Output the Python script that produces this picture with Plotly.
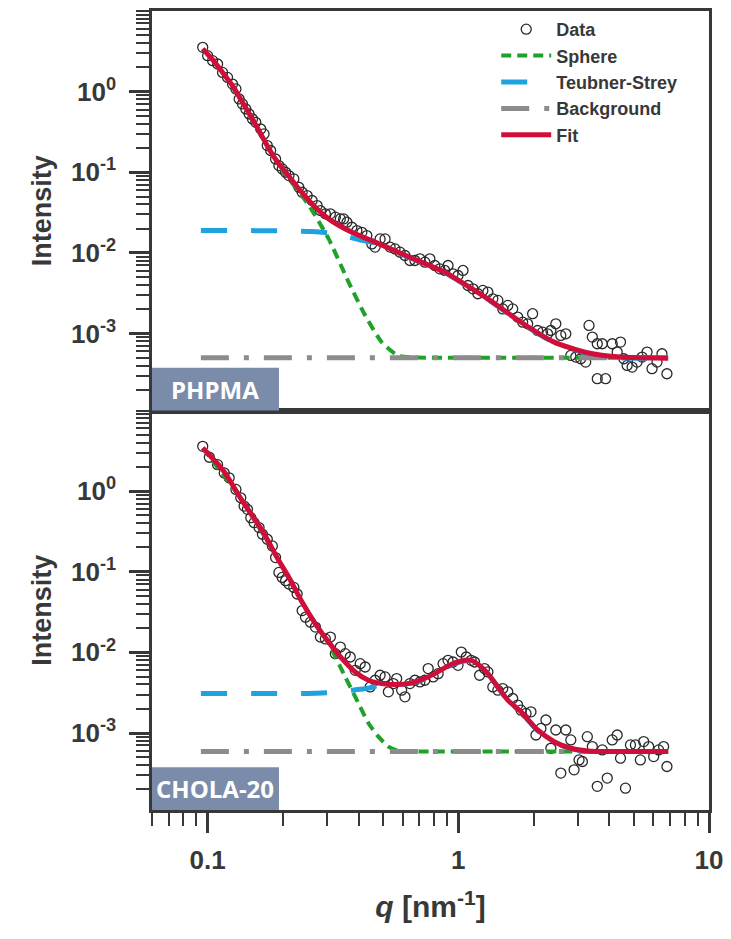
import math
import plotly.graph_objects as go

# ---------------- data: PHPMA (top panel) ----------------
q_phpma = [0.0956, 0.100, 0.1047, 0.1096, 0.1147, 0.1201, 0.1257, 0.1297, 0.1336, 0.1377,
           0.142, 0.1464, 0.151, 0.1556, 0.1629, 0.1679, 0.173, 0.1784, 0.1867, 0.1925,
           0.1985, 0.2046, 0.211, 0.2208, 0.2311, 0.2383, 0.2495, 0.2611, 0.2734, 0.2818,
           0.2949, 0.3088, 0.3232, 0.3384, 0.3488, 0.3595, 0.3763, 0.3939, 0.4124, 0.4316,
           0.4518, 0.4657, 0.4875, 0.5103, 0.5342, 0.5592, 0.5853, 0.6127, 0.6412, 0.6713,
           0.7027, 0.7356, 0.770, 0.8058, 0.8437, 0.883, 0.910, 0.9528, 0.9972, 1.044,
           1.093, 1.144, 1.197, 1.253, 1.312, 1.373, 1.438, 1.504, 1.575, 1.648,
           1.725, 1.806, 1.891, 1.979, 2.072, 2.168, 2.270, 2.340, 2.449, 2.564,
           2.684, 2.810, 2.941, 3.078, 3.222, 3.322, 3.424, 3.584, 3.584, 3.752,
           3.868, 4.111, 4.303, 4.436, 4.574, 4.715, 4.935, 5.166, 5.408, 5.661,
           5.925, 6.203, 6.493, 6.796]
i_phpma = [3.54, 2.79, 2.42, 2.20, 1.73, 1.50, 1.24, 1.08, 0.811, 0.703,
           0.609, 0.528, 0.458, 0.416, 0.344, 0.299, 0.214, 0.186, 0.146, 0.121,
           0.110, 0.100, 0.0909, 0.0827, 0.0652, 0.0565, 0.0514, 0.0446, 0.0386, 0.0335,
           0.0305, 0.0305, 0.0277, 0.0264, 0.0264, 0.0240, 0.0208, 0.0189, 0.0180, 0.0164,
           0.0129, 0.0118, 0.0149, 0.0149, 0.0118, 0.0112, 0.0102, 0.00928, 0.00804, 0.00804,
           0.00843, 0.00767, 0.00843, 0.00697, 0.00634, 0.00605, 0.00697, 0.0055, 0.00524, 0.00605,
           0.00394, 0.00358, 0.00311, 0.00342, 0.00326, 0.00269, 0.00257, 0.00202, 0.00223, 0.00202,
           0.0016, 0.00138, 0.00132, 0.00176, 0.00109, 0.00104, 0.000992, 0.00109, 0.00132, 0.000946,
           0.000992, 0.000535, 0.00051, 0.000486, 0.000442, 0.00126, 0.000902, 0.000746, 0.000275, 0.000746,
           0.000275, 0.000746, 0.000588, 0.000782, 0.000486, 0.000402, 0.000383, 0.000442, 0.00051, 0.000588,
           0.000366, 0.000442, 0.000561, 0.000317]

q_fit_phpma = [0.0956, 0.1047, 0.1147, 0.1257, 0.1377, 0.151, 0.1629, 0.1758, 0.1925, 0.211,
               0.2311, 0.2611, 0.304, 0.3763, 0.4657, 0.5764, 0.7134, 0.883, 1.028, 1.312,
               1.779, 2.412, 3.271, 4.436, 6.87]
i_fit_phpma = [3.39, 2.49, 1.73, 1.185, 0.737, 0.458, 0.299, 0.1945, 0.1268, 0.0892,
               0.0621, 0.0405, 0.0264, 0.0180, 0.0136, 0.0102, 0.00767, 0.00577, 0.00434, 0.00269,
               0.00138, 0.000782, 0.000577, 0.00051, 0.000495]

q_sph_phpma = [0.0956, 0.1147, 0.1377, 0.1629, 0.1925, 0.211, 0.2535, 0.304, 0.365, 0.425,
               0.495, 0.576, 0.65, 1.0, 2.0, 6.87]
i_sph_phpma = [3.39, 1.73, 0.737, 0.299, 0.122, 0.0826, 0.0387, 0.0149, 0.00434, 0.00168,
               0.00078, 0.00053, 0.000505, 0.0005, 0.0005, 0.0005]

q_ts_phpma = [0.094, 0.2, 0.26, 0.304, 0.35, 0.412, 0.4657, 0.5764, 0.7134, 0.883,
              1.028, 1.312, 1.779, 2.412, 3.271, 4.436, 6.87]
i_ts_phpma = [0.0189, 0.0188, 0.0184, 0.0177, 0.0163, 0.0143, 0.0133, 0.0100, 0.0076, 0.0057,
              0.0043, 0.00266, 0.00136, 0.00077, 0.00057, 0.0005, 0.00049]

q_bg_phpma = [0.094, 6.87]
i_bg_phpma = [0.0005, 0.0005]

# ---------------- data: CHOLA-20 (bottom panel) ----------------
q_chola = [0.0956, 0.1016, 0.1096, 0.1165, 0.1219, 0.1297, 0.1356, 0.1398, 0.1442, 0.1487,
           0.1533, 0.1604, 0.1654, 0.173, 0.1812, 0.1867, 0.1925, 0.1985, 0.2046, 0.211,
           0.2208, 0.2276, 0.2383, 0.2457, 0.2571, 0.2692, 0.2818, 0.2949, 0.3088, 0.3232,
           0.3384, 0.3540, 0.3706, 0.3879, 0.4061, 0.4251, 0.4449, 0.4657, 0.4875, 0.5103,
           0.526, 0.5507, 0.5677, 0.5943, 0.6127, 0.6412, 0.6713, 0.7027, 0.7356, 0.7584,
           0.7937, 0.831, 0.8695, 0.910, 0.9528, 0.9972, 1.028, 1.076, 1.126, 1.161,
           1.216, 1.272, 1.312, 1.373, 1.438, 1.504, 1.575, 1.648, 1.725, 1.779,
           1.862, 1.949, 2.040, 2.135, 2.236, 2.340, 2.449, 2.564, 2.684, 2.810,
           2.896, 3.031, 3.125, 3.271, 3.424, 3.584, 3.752, 3.928, 4.111, 4.303,
           4.436, 4.643, 4.861, 5.087, 5.324, 5.489, 5.746, 6.016, 6.297, 6.592,
           6.796]
i_chola = [3.59, 2.63, 2.13, 1.68, 1.46, 1.05, 0.827, 0.653, 0.594, 0.469,
           0.406, 0.353, 0.292, 0.253, 0.209, 0.150, 0.0981, 0.0851, 0.0774, 0.0704,
           0.0640, 0.0530, 0.0330, 0.0273, 0.0237, 0.0206, 0.0155, 0.0147, 0.0155, 0.00963,
           0.01163, 0.00963, 0.00876, 0.00599, 0.00725, 0.00659, 0.00373, 0.00451, 0.0052, 0.00496,
           0.00324, 0.0041, 0.00473, 0.0034, 0.00281, 0.0041, 0.00451, 0.0043, 0.00451, 0.00629,
           0.00496, 0.00545, 0.00725, 0.00796, 0.0076, 0.00691, 0.0101, 0.00876, 0.00796, 0.0076,
           0.0052, 0.00629, 0.00572, 0.00373, 0.0034, 0.00356, 0.00324, 0.00268, 0.00222, 0.00192,
           0.00175, 0.00183, 0.000945, 0.00114, 0.00145, 0.000647, 0.00109, 0.000318, 0.00109, 0.00082,
           0.000349, 0.000464, 0.000443, 0.000901, 0.000678, 0.000218, 0.000617, 0.000276, 0.00082, 0.000945,
           0.000487, 0.000207, 0.000711, 0.000711, 0.000464, 0.000782, 0.000678, 0.00051, 0.000617, 0.000678,
           0.000384]

q_fit_chola = [0.0956, 0.1147, 0.1377, 0.1654, 0.1925, 0.211, 0.2383, 0.2692, 0.3041, 0.3435,
               0.3879, 0.4383, 0.4951, 0.5592, 0.6316, 0.7134, 0.8058, 0.910, 1.028, 1.126,
               1.197, 1.312, 1.438, 1.575, 1.779, 2.072, 2.412, 2.810, 3.271, 4.436,
               6.87]
i_fit_chola = [3.43, 1.85, 0.752, 0.321, 0.1367, 0.0851, 0.0418, 0.0226, 0.0134, 0.00835,
               0.00572, 0.00451, 0.0041, 0.00399, 0.0041, 0.0046, 0.00545, 0.00678, 0.00782, 0.00796,
               0.00711, 0.00545, 0.00373, 0.00256, 0.00183, 0.00109, 0.00078, 0.000647, 0.0006, 0.00059,
               0.00059]

q_sph_chola = [0.0956, 0.1377, 0.1925, 0.2383, 0.2692, 0.3041, 0.354, 0.3763, 0.40, 0.4383,
               0.4801, 0.526, 0.5764, 0.65, 1.0, 2.0, 6.87]
i_sph_chola = [3.43, 0.752, 0.1367, 0.0418, 0.0224, 0.0128, 0.00496, 0.0034, 0.00232, 0.00132,
               0.000901, 0.000678, 0.0006, 0.00059, 0.00059, 0.00059, 0.00059]

q_ts_chola = [0.094, 0.25, 0.32, 0.38, 0.4383, 0.4951, 0.5592, 0.6316, 0.7134, 0.8058,
              0.910, 1.028, 1.126, 1.197, 1.312, 1.438, 1.575, 1.779, 2.072, 2.412,
              2.810, 3.271, 4.436, 6.87]
i_ts_chola = [0.0031, 0.0031, 0.0032, 0.0034, 0.0036, 0.0040, 0.0040, 0.0041, 0.0045, 0.0054,
              0.0067, 0.0077, 0.0079, 0.0070, 0.0054, 0.0037, 0.00254, 0.00181, 0.00107, 0.00077,
              0.00064, 0.00059, 0.00059, 0.00059]

q_bg_chola = [0.094, 6.87]
i_bg_chola = [0.00059, 0.00059]

panel_labels = ["PHPMA", "CHOLA-20"]
y_tickvals = [1, 0.1, 0.01, 0.001]
y_ticktext = ["10<sup>0</sup>", "10<sup>-1</sup>", "10<sup>-2</sup>", "10<sup>-3</sup>"]
x_tickvals = [0.1, 1, 10]
x_ticktext = ["0.1", "1", "10"]

# ---------------- styles ----------------
INK = "#383838"
FONT = "Liberation Sans, Arial, sans-serif"
C_DATA = "#2a2a2a"
C_SPH = "#1fa12a"
C_TS = "#1ea3df"
C_BG = "#8c8c8c"
C_FIT = "#cf0f3a"
C_BOX = "#7b8cab"

fig = go.Figure()


def add_panel(xa, ya, q, i, qs, is_, qt, it, qb, ib, qf, if_, show):
    fig.add_trace(go.Scatter(
        x=q, y=i, mode="markers", name="Data", showlegend=show, xaxis=xa, yaxis=ya,
        marker=dict(symbol="circle-open", size=10, color=C_DATA, line=dict(width=1.3, color=C_DATA))))
    fig.add_trace(go.Scatter(
        x=qs, y=is_, mode="lines", name="Sphere", showlegend=show, xaxis=xa, yaxis=ya,
        line=dict(color=C_SPH, width=4, dash="10px,6px", shape="spline", smoothing=0.6)))
    fig.add_trace(go.Scatter(
        x=qt, y=it, mode="lines", name="Teubner-Strey", showlegend=show, xaxis=xa, yaxis=ya,
        line=dict(color=C_TS, width=5, dash="26px,24px", shape="spline", smoothing=0.6)))
    fig.add_trace(go.Scatter(
        x=qb, y=ib, mode="lines", name="Background", showlegend=show, xaxis=xa, yaxis=ya,
        line=dict(color=C_BG, width=5, dash="28px,15px,5px,15px")))
    fig.add_trace(go.Scatter(
        x=qf, y=if_, mode="lines", name="Fit", showlegend=show, xaxis=xa, yaxis=ya,
        line=dict(color=C_FIT, width=5, shape="spline", smoothing=0.6)))


add_panel("x2", "y2", q_phpma, i_phpma, q_sph_phpma, i_sph_phpma, q_ts_phpma, i_ts_phpma,
          q_bg_phpma, i_bg_phpma, q_fit_phpma, i_fit_phpma, True)
add_panel("x", "y", q_chola, i_chola, q_sph_chola, i_sph_chola, q_ts_chola, i_ts_chola,
          q_bg_chola, i_bg_chola, q_fit_chola, i_fit_chola, False)

yrange = [-3.955, 1.0]
xrange = [math.log10(0.06), 1.0]

common_y = dict(
    type="log", range=yrange, showline=True, linewidth=2.5, linecolor=INK, mirror=True,
    ticks="outside", ticklen=20, tickwidth=3, tickcolor=INK,
    tickmode="array", tickvals=y_tickvals, ticktext=y_ticktext,
    tickfont=dict(family=FONT, size=26, color=INK, weight="bold"),
    ticklabelstandoff=8,
    minor=dict(ticks="outside", ticklen=13, tickwidth=2, tickcolor=INK, dtick="D1", showgrid=False),
    showgrid=False, zeroline=False,
    title=dict(text="Intensity", font=dict(family=FONT, size=27, color=INK, weight="bold"), standoff=12),
)

fig.update_layout(
    width=731, height=939,
    margin=dict(l=152, r=18, t=8, b=129),
    paper_bgcolor="white", plot_bgcolor="white",
    xaxis=dict(
        type="log", range=xrange, anchor="y", domain=[0, 1],
        showline=True, linewidth=2.5, linecolor=INK, mirror=True,
        ticks="outside", ticklen=20, tickwidth=3, tickcolor=INK,
        tickmode="array", tickvals=x_tickvals, ticktext=x_ticktext,
        tickfont=dict(family=FONT, size=26, color=INK, weight="bold"),
        ticklabelstandoff=5,
        minor=dict(ticks="outside", ticklen=13, tickwidth=2, tickcolor=INK, dtick="D1", showgrid=False),
        showgrid=False, zeroline=False,
        title=dict(text="<i>q</i> [nm<sup>-1</sup>]", font=dict(family=FONT, size=30, color=INK, weight="bold"),
                   standoff=23),
    ),
    xaxis2=dict(
        type="log", range=xrange, anchor="y2", matches="x", domain=[0, 1],
        showline=True, linewidth=2.5, linecolor=INK, mirror=True,
        ticks="", showticklabels=False, showgrid=False, zeroline=False,
    ),
    yaxis=dict(domain=[0, 0.5], anchor="x", **common_y),
    yaxis2=dict(domain=[0.5, 1], anchor="x2", **common_y),
    legend=dict(
        x=0.618, y=1.0, xanchor="left", yanchor="top",
        bgcolor="rgba(0,0,0,0)", borderwidth=0,
        font=dict(family=FONT, size=18, color=INK, weight="bold"),
        itemwidth=50, tracegroupgap=0,
    ),
)

for xr, yr, label in [("x2 domain", "y2 domain", panel_labels[0]), ("x domain", "y domain", panel_labels[1])]:
    fig.add_shape(type="rect", xref=xr, yref=yr, x0=0, x1=0.228, y0=0, y1=0.107,
                  fillcolor=C_BOX, line=dict(width=0), layer="above")
    fig.add_annotation(xref=xr, yref=yr, x=0.114, y=0.053, text=label, showarrow=False,
                       font=dict(family="Open Sans, sans-serif", size=24, color="white", weight="bold"),
                       xanchor="center", yanchor="middle")

# remove the default page margin so the figure fills the 731x939 window exactly
fig.write_html(
    "out.html",
    config={"displayModeBar": False},
    post_script="document.body.style.margin='0';document.body.style.overflow='hidden';",
)
